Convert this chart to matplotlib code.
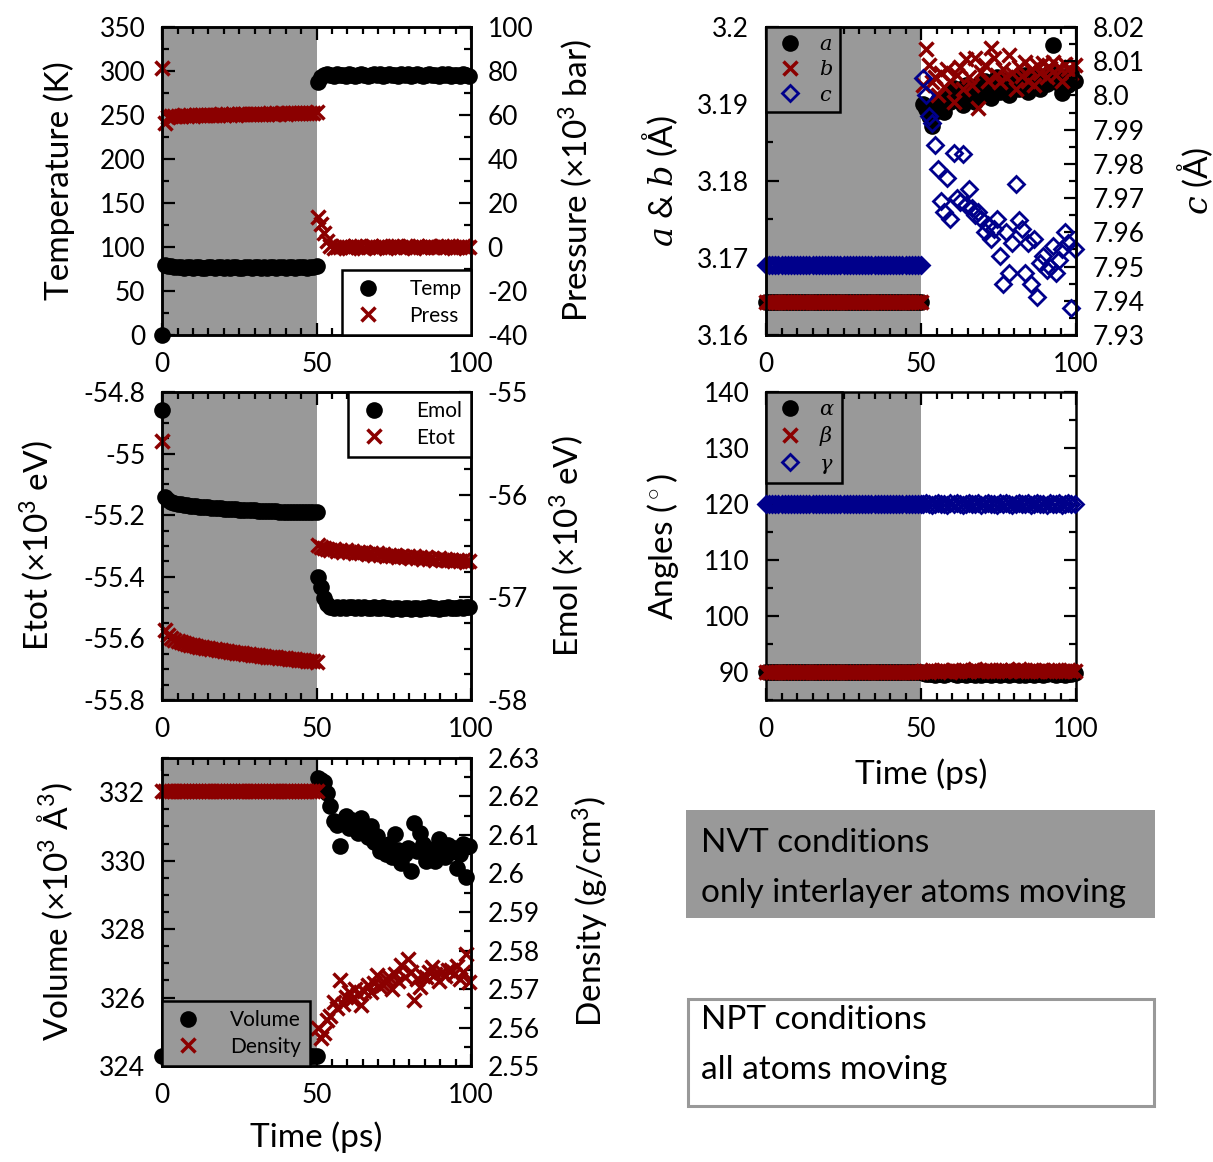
import numpy as np
import matplotlib
matplotlib.use('Agg')
import matplotlib.pyplot as plt
from matplotlib.ticker import MultipleLocator, FuncFormatter
from matplotlib.lines import Line2D
from matplotlib.patches import Rectangle

plt.rcParams['font.family'] = ['Lato', 'DejaVu Sans']
plt.rcParams['mathtext.fontset'] = 'custom'
plt.rcParams['mathtext.rm'] = 'Lato'
plt.rcParams['mathtext.it'] = 'DejaVu Serif:italic'
plt.rcParams['mathtext.bf'] = 'Lato:bold'
plt.rcParams['axes.unicode_minus'] = False

RED = '#8b0000'
BLUE = '#00008b'
GRAY = '#999999'

# ---------------- data ----------------
t_nvt = np.arange(0, 51, 1.0)          # NVT stage (ps)
t_npt = np.arange(50.5, 100, 1.0)      # NPT stage (ps)

temp_nvt = [0, 79, 78, 78, 77, 77, 77, 76, 77, 77, 76, 77, 77, 76, 76, 77, 77, 76, 77, 77,
            76, 77, 76, 77, 77, 76, 76, 77, 77, 76, 77, 77, 76, 77, 76, 77, 77, 76, 77, 77,
            76, 77, 77, 76, 77, 77, 77, 76, 77, 77, 78]
temp_npt = [288, 293, 295, 296, 295, 294, 296, 295, 295, 294, 296, 295, 294, 295, 296, 295, 294,
            295, 296, 295, 296, 294, 295, 296, 295, 295, 294, 296, 295, 296, 294, 295, 296, 295,
            294, 295, 296, 295, 295, 294, 296, 295, 296, 294, 295, 295, 294, 296, 295, 294]
press_nvt = [81.5, 56.5, 59.3, 59.5, 59.4, 59.7, 59.5, 59.8, 59.6, 59.9, 59.7, 60.0, 59.8, 60.1,
             59.9, 60.1, 60.0, 60.2, 60.0, 60.3, 60.1, 60.3, 60.2, 60.4, 60.2, 60.4, 60.3, 60.5,
             60.3, 60.5, 60.4, 60.6, 60.4, 60.6, 60.5, 60.7, 60.5, 60.7, 60.6, 60.8, 60.6, 60.8,
             60.7, 60.9, 60.7, 60.9, 60.8, 61.0, 60.8, 61.0, 61.2]
press_npt = [13.8, 10.5, 6.5, 2.5, 0.5, -0.3, 0.2, -0.2, 0.3, 0.0, -0.4, 0.2, 0.5, -0.1, 0.3,
             -0.3, 0.1, 0.4, -0.2, 0.2, 0.0, 0.5, -0.3, 0.1, 0.3, -0.2, 0.4, 0.0, -0.1, 0.3,
             0.1, -0.3, 0.4, 0.2, -0.2, 0.1, 0.5, -0.1, 0.2, 0.0, 0.3, -0.2, 0.4, 0.1, -0.3,
             0.2, 0.0, 0.3, -0.1, 0.2]

emol_nvt = [-55.18, -56.02, -56.05, -56.07, -56.08, -56.09, -56.09, -56.10, -56.10, -56.11,
            -56.11, -56.11, -56.12, -56.12, -56.12, -56.12, -56.13, -56.13, -56.13, -56.13,
            -56.14, -56.14, -56.14, -56.14, -56.14, -56.15, -56.15, -56.15, -56.15, -56.15,
            -56.15, -56.16, -56.16, -56.16, -56.16, -56.16, -56.16, -56.16, -56.17, -56.17,
            -56.17, -56.17, -56.17, -56.17, -56.17, -56.17, -56.17, -56.17, -56.17, -56.17,
            -56.17]
emol_npt = [-56.80, -56.90, -57.01, -57.07, -57.09, -57.10, -57.09, -57.10, -57.09, -57.10,
            -57.09, -57.09, -57.10, -57.09, -57.10, -57.09, -57.10, -57.10, -57.09, -57.10,
            -57.10, -57.09, -57.10, -57.10, -57.11, -57.10, -57.10, -57.11, -57.10, -57.10,
            -57.11, -57.10, -57.10, -57.11, -57.10, -57.10, -57.09, -57.10, -57.10, -57.11,
            -57.10, -57.10, -57.09, -57.10, -57.10, -57.10, -57.09, -57.10, -57.09, -57.09]
etot_nvt = [-54.958, -55.573, -55.590, -55.598, -55.604, -55.608, -55.612, -55.615, -55.618,
            -55.620, -55.622, -55.625, -55.627, -55.629, -55.630, -55.632, -55.634, -55.636,
            -55.637, -55.639, -55.640, -55.642, -55.643, -55.645, -55.646, -55.648, -55.649,
            -55.650, -55.652, -55.653, -55.654, -55.655, -55.657, -55.658, -55.659, -55.660,
            -55.661, -55.662, -55.663, -55.664, -55.665, -55.666, -55.667, -55.668, -55.669,
            -55.670, -55.671, -55.672, -55.673, -55.674, -55.676]
etot_npt = [-55.297, -55.302, -55.306, -55.310, -55.313, -55.309, -55.316, -55.312, -55.318,
            -55.314, -55.320, -55.316, -55.322, -55.318, -55.324, -55.320, -55.326, -55.322,
            -55.328, -55.324, -55.330, -55.326, -55.331, -55.328, -55.333, -55.329, -55.335,
            -55.331, -55.337, -55.333, -55.338, -55.334, -55.340, -55.336, -55.341, -55.337,
            -55.343, -55.339, -55.344, -55.340, -55.346, -55.342, -55.347, -55.344, -55.349,
            -55.345, -55.350, -55.346, -55.352, -55.348]

vol_nvt = [324.3] * 51
vol_npt = [332.42, 332.35, 332.30, 331.98, 331.59, 331.16, 331.05, 330.43, 331.10, 331.30,
           330.95, 331.20, 330.96, 330.80, 331.25, 330.90, 330.70, 331.01, 330.55, 330.72,
           330.28, 330.40, 330.19, 330.50, 330.10, 330.77, 330.30, 329.94, 330.20, 330.38,
           329.70, 331.11, 330.28, 330.82, 330.50, 330.00, 330.35, 330.20, 329.99, 330.62,
           330.30, 330.10, 330.45, 330.25, 330.38, 329.80, 330.19, 330.50, 329.51, 330.43]
dens_nvt = [2.6213] * 51
dens_npt = [2.5598, 2.5572, 2.5585, 2.5619, 2.5630, 2.5667, 2.5650, 2.5723, 2.5662, 2.5680,
            2.5692, 2.5675, 2.5700, 2.5688, 2.5658, 2.5695, 2.5710, 2.5692, 2.5715, 2.5736,
            2.5705, 2.5710, 2.5725, 2.5731, 2.5700, 2.5740, 2.5720, 2.5762, 2.5730, 2.5779,
            2.5745, 2.5671, 2.5725, 2.5705, 2.5735, 2.5730, 2.5745, 2.5757, 2.5740, 2.5720,
            2.5745, 2.5735, 2.5750, 2.5749, 2.5740, 2.5760, 2.5725, 2.5745, 2.5792, 2.5718]

a_nvt = [3.1643] * 51
b_nvt = [3.1643] * 51
c_nvt = [7.9505] * 51
a_npt = [3.1900, 3.1893, 3.1884, 3.1871, 3.1890, 3.1905, 3.1898, 3.1889, 3.1912, 3.1903,
         3.1921, 3.1908, 3.1915, 3.1899, 3.1924, 3.1910, 3.1918, 3.1902, 3.1925, 3.1913,
         3.1930, 3.1917, 3.1908, 3.1927, 3.1935, 3.1916, 3.1922, 3.1931, 3.1912, 3.1926,
         3.1934, 3.1919, 3.1928, 3.1937, 3.1915, 3.1930, 3.1922, 3.1938, 3.1920, 3.1933,
         3.1926, 3.1941, 3.1977, 3.1929, 3.1936, 3.1914, 3.1932, 3.1925, 3.1940, 3.1930]
b_npt = [3.1925, 3.1971, 3.1951, 3.1928, 3.1935, 3.1912, 3.1940, 3.1922, 3.1946, 3.1930,
         3.1902, 3.1938, 3.1948, 3.1920, 3.1958, 3.1935, 3.1925, 3.1960, 3.1895, 3.1942,
         3.1950, 3.1930, 3.1973, 3.1960, 3.1938, 3.1928, 3.1945, 3.1935, 3.1964, 3.1940,
         3.1920, 3.1948, 3.1936, 3.1955, 3.1930, 3.1944, 3.1925, 3.1950, 3.1940, 3.1953,
         3.1935, 3.1947, 3.1955, 3.1938, 3.1948, 3.1930, 3.1952, 3.1945, 3.1940, 3.1950]
c_npt = [8.005, 8.000, 7.994, 7.992, 7.9855, 7.9785, 7.9692, 7.966, 7.9758, 7.9638,
         7.9833, 7.970, 7.969, 7.9829, 7.968, 7.9726, 7.967, 7.965, 7.966, 7.964,
         7.960, 7.962, 7.958, 7.961, 7.9638, 7.953, 7.945, 7.960, 7.948, 7.957,
         7.9741, 7.9635, 7.961, 7.948, 7.957, 7.945, 7.958, 7.941, 7.951, 7.953,
         7.949, 7.950, 7.956, 7.948, 7.952, 7.955, 7.960, 7.957, 7.9378, 7.955]

alpha_nvt = [90.0] * 51
beta_nvt = [90.0] * 51
gamma_nvt = [120.0] * 51
alpha_npt = [89.8, 89.7, 89.6, 89.7, 89.5, 89.6, 89.7, 89.5, 89.6, 89.8, 89.6, 89.5, 89.7,
             89.6, 89.4, 89.6, 89.7, 89.5, 89.6, 89.5, 89.7, 89.6, 89.4, 89.6, 89.7, 89.5,
             89.6, 89.8, 89.5, 89.6, 89.7, 89.5, 89.6, 89.4, 89.6, 89.7, 89.5, 89.6, 89.7,
             89.5, 89.6, 89.8, 89.6, 89.5, 89.7, 89.6, 89.5, 89.7, 89.6, 89.8]
beta_npt = [90.1, 90.2, 90.0, 90.3, 90.1, 90.2, 90.4, 90.1, 90.2, 90.0, 90.3, 90.2, 90.1,
            90.4, 90.2, 90.1, 90.3, 90.5, 90.2, 90.1, 90.3, 90.2, 90.4, 90.1, 90.2, 90.3,
            90.1, 90.4, 90.2, 90.3, 90.1, 90.5, 90.2, 90.3, 90.1, 90.2, 90.4, 90.2, 90.1,
            90.3, 90.2, 90.1, 90.3, 90.2, 90.4, 90.1, 90.2, 90.3, 90.1, 90.2]
gamma_npt = [120.0, 120.1, 120.0, 119.9, 120.0, 120.1, 120.0, 120.0, 119.9, 120.1, 120.0,
             120.1, 120.0, 119.9, 120.0, 120.1, 120.0, 120.0, 120.1, 119.9, 120.0, 120.1,
             120.0, 120.0, 119.9, 120.1, 120.0, 120.1, 120.0, 119.9, 120.0, 120.1, 120.0,
             120.0, 120.1, 119.9, 120.0, 120.1, 120.0, 120.0, 119.9, 120.1, 120.0, 120.0,
             120.1, 119.9, 120.0, 120.1, 120.0, 120.0]

# ---------------- style ----------------
TICK_FS = 19
LABEL_FS = 24
LEG_FS = 15
SPINE_LW = 1.8
PAD = 12

circ = dict(ls='none', marker='o', ms=12, mfc='black', mec='black', mew=0)
cross = dict(ls='none', marker='x', ms=10, mec=RED, mew=2.5)
diam = dict(ls='none', marker='D', ms=8, mfc='none', mec=BLUE, mew=2)


def fmt_g(x, pos):
    return '%g' % round(x, 6)


def fmt_1dec(x, pos):
    s = '%.2f' % x
    if s.endswith('0'):
        s = s[:-1]
    return s


def style(ax, right_mirror=True):
    for sp in ax.spines.values():
        sp.set_linewidth(SPINE_LW)
    ax.tick_params(which='both', direction='in', top=True, right=right_mirror,
                   labelsize=TICK_FS, width=1.6)
    ax.tick_params(which='major', length=9, pad=PAD)
    ax.tick_params(which='minor', length=5)
    ax.set_xlim(0, 100)
    ax.xaxis.set_major_locator(MultipleLocator(50))
    ax.xaxis.set_minor_locator(MultipleLocator(5))
    ax.axvspan(0, 50, color=GRAY, lw=0, zorder=0)


def style_twin(ax2):
    ax2.tick_params(which='both', direction='in', labelsize=TICK_FS, width=1.6)
    ax2.tick_params(which='major', length=9, pad=PAD)
    ax2.tick_params(which='minor', length=5)
    for sp in ax2.spines.values():
        sp.set_linewidth(SPINE_LW)


def legend(ax, handles, labels, loc, face, fs=LEG_FS, tp=1.2, ls=0.3, bp=0.45):
    lg = ax.legend(handles, labels, loc=loc, fontsize=fs, frameon=True, fancybox=False,
                   edgecolor='black', facecolor=face, framealpha=1, borderaxespad=0,
                   handletextpad=tp, borderpad=bp, labelspacing=ls, handlelength=1.6)
    lg.get_frame().set_linewidth(SPINE_LW)
    lg.set_zorder(20)
    return lg


fig = plt.figure(figsize=(12.13, 11.62), dpi=100)

LX, LW = 0.1336, 0.2547
RX, RW = 0.6315, 0.2556
H = 0.2651
B1, B2, B3 = 0.7117, 0.3976, 0.0826

# ---- Panel 1: temperature / pressure ----
ax1 = fig.add_axes([LX, B1, LW, H])
style(ax1, right_mirror=False)
ax1.set_ylim(0, 350)
ax1.yaxis.set_major_locator(MultipleLocator(50))
ax1.yaxis.set_minor_locator(MultipleLocator(25))
ax1.plot(t_nvt, temp_nvt, clip_on=False, zorder=3, **circ)
ax1.plot(t_npt, temp_npt, clip_on=False, zorder=3, **circ)
ax1.set_ylabel('Temperature (K)', fontsize=LABEL_FS)
ax1.yaxis.set_label_coords(-0.2816, 0.5)
ax1b = ax1.twinx()
style_twin(ax1b)
ax1b.set_ylim(-40, 100)
ax1b.yaxis.set_major_locator(MultipleLocator(20))
ax1b.yaxis.set_minor_locator(MultipleLocator(10))
ax1b.plot(t_nvt, press_nvt, clip_on=False, **cross)
ax1b.plot(t_npt, press_npt, clip_on=False, **cross)
ax1b.set_ylabel(r'Pressure ($\times$10$^3$ bar)', fontsize=LABEL_FS)
ax1b.yaxis.set_label_coords(1.278, 0.5)
legend(ax1b, [Line2D([], [], **circ), Line2D([], [], **cross)], ['Temp', 'Press'],
       'lower right', 'white')

# ---- Panel 2: energies ----
ax2 = fig.add_axes([LX, B2, LW, H])
style(ax2, right_mirror=False)
ax2.set_ylim(-55.8, -54.8)
ax2.yaxis.set_major_locator(MultipleLocator(0.2))
ax2.yaxis.set_minor_locator(MultipleLocator(0.05))
ax2.yaxis.set_major_formatter(FuncFormatter(fmt_g))
ax2.plot(t_nvt, etot_nvt, clip_on=False, zorder=3, **cross)
ax2.plot(t_npt, etot_npt, clip_on=False, zorder=3, **cross)
ax2.set_ylabel(r'Etot ($\times$10$^3$ eV)', fontsize=LABEL_FS)
ax2.yaxis.set_label_coords(-0.343, 0.5)
ax2b = ax2.twinx()
style_twin(ax2b)
ax2b.set_ylim(-58, -55)
ax2b.yaxis.set_major_locator(MultipleLocator(1))
ax2b.yaxis.set_minor_locator(MultipleLocator(0.25))
ax2b.yaxis.set_major_formatter(FuncFormatter(fmt_g))
ax2b.plot(t_nvt, emol_nvt, clip_on=False, **circ)
ax2b.plot(t_npt, emol_npt, clip_on=False, **circ)
ax2b.set_ylabel(r'Emol ($\times$10$^3$ eV)', fontsize=LABEL_FS)
ax2b.yaxis.set_label_coords(1.249, 0.5)
legend(ax2b, [Line2D([], [], **circ), Line2D([], [], **cross)], ['Emol', 'Etot'],
       'upper right', 'white')

# ---- Panel 3: volume / density ----
ax3 = fig.add_axes([LX, B3, LW, H])
style(ax3, right_mirror=False)
ax3.set_ylim(324, 333)
ax3.yaxis.set_major_locator(MultipleLocator(2))
ax3.yaxis.set_minor_locator(MultipleLocator(0.5))
ax3.plot(t_nvt, vol_nvt, clip_on=False, zorder=3, **circ)
ax3.plot(t_npt, vol_npt, clip_on=False, zorder=3, **circ)
ax3.set_ylabel(r'Volume ($\times$10$^3$ $\mathregular{\AA}^3$)', fontsize=LABEL_FS)
ax3.yaxis.set_label_coords(-0.2816, 0.5)
ax3.set_xlabel('Time (ps)', fontsize=LABEL_FS)
ax3.xaxis.set_label_coords(0.5, -0.181)
ax3b = ax3.twinx()
style_twin(ax3b)
ax3b.set_ylim(2.55, 2.63)
ax3b.yaxis.set_major_locator(MultipleLocator(0.01))
ax3b.yaxis.set_minor_locator(MultipleLocator(0.005))
ax3b.yaxis.set_major_formatter(FuncFormatter(fmt_g))
ax3b.plot(t_nvt, dens_nvt, clip_on=False, **cross)
ax3b.plot(t_npt, dens_npt, clip_on=False, **cross)
ax3b.set_ylabel(r'Density (g/cm$^3$)', fontsize=LABEL_FS)
ax3b.yaxis.set_label_coords(1.320, 0.5)
legend(ax3b, [Line2D([], [], **circ), Line2D([], [], **cross)], ['Volume', 'Density'],
       'lower left', GRAY)

# ---- Panel 4: lattice parameters ----
ax4 = fig.add_axes([RX, B1, RW, H])
style(ax4, right_mirror=False)
ax4.set_ylim(3.16, 3.20)
ax4.yaxis.set_major_locator(MultipleLocator(0.01))
ax4.yaxis.set_minor_locator(MultipleLocator(0.005))
ax4.yaxis.set_major_formatter(FuncFormatter(fmt_g))
ax4.plot(t_nvt, a_nvt, clip_on=False, zorder=3, **circ)
ax4.plot(t_npt, a_npt, clip_on=False, zorder=3, **circ)
ax4.plot(t_nvt, b_nvt, clip_on=False, zorder=4, **cross)
ax4.plot(t_npt, b_npt, clip_on=False, zorder=4, **cross)
ax4.set_ylabel(r'$a$ & $b$ ($\mathregular{\AA}$)', fontsize=LABEL_FS)
ax4.yaxis.set_label_coords(-0.277, 0.5)
ax4b = ax4.twinx()
style_twin(ax4b)
ax4b.set_ylim(7.93, 8.02)
ax4b.yaxis.set_major_locator(MultipleLocator(0.01))
ax4b.yaxis.set_minor_locator(MultipleLocator(0.005))
ax4b.yaxis.set_major_formatter(FuncFormatter(fmt_1dec))
ax4b.plot(t_nvt, c_nvt, clip_on=False, **diam)
ax4b.plot(t_npt, c_npt, clip_on=False, **diam)
ax4b.set_ylabel(r'$c$ ($\mathregular{\AA}$)', fontsize=LABEL_FS)
ax4b.yaxis.set_label_coords(1.319, 0.5)
legend(ax4b, [Line2D([], [], **circ), Line2D([], [], **cross), Line2D([], [], **diam)],
       [r'$a$', r'$b$', r'$c$'], 'upper left', GRAY, fs=15, tp=0.6, ls=0.25, bp=0.35)

# ---- Panel 5: angles ----
ax5 = fig.add_axes([RX, B2, RW, H])
style(ax5, right_mirror=True)
ax5.set_ylim(85, 140)
ax5.yaxis.set_major_locator(MultipleLocator(10))
ax5.yaxis.set_minor_locator(MultipleLocator(5))
ax5.plot(t_nvt, gamma_nvt, clip_on=False, zorder=3, **diam)
ax5.plot(t_npt, gamma_npt, clip_on=False, zorder=3, **diam)
ax5.plot(t_nvt, alpha_nvt, clip_on=False, zorder=3, **circ)
ax5.plot(t_npt, alpha_npt, clip_on=False, zorder=3, **circ)
ax5.plot(t_nvt, beta_nvt, clip_on=False, zorder=4, **cross)
ax5.plot(t_npt, beta_npt, clip_on=False, zorder=4, **cross)
ax5.set_ylabel(r'Angles ($^\circ$)', fontsize=LABEL_FS)
ax5.yaxis.set_label_coords(-0.274, 0.5)
ax5.set_xlabel('Time (ps)', fontsize=LABEL_FS)
ax5.xaxis.set_label_coords(0.5, -0.188)
legend(ax5, [Line2D([], [], **circ), Line2D([], [], **cross), Line2D([], [], **diam)],
       [r'$\alpha$', r'$\beta$', r'$\gamma$'], 'upper left', GRAY, fs=15, tp=0.6,
       ls=0.25, bp=0.35)

# ---- condition boxes ----
W, Hf = 1213.0, 1162.0
fig.patches.append(Rectangle((686 / W, 1 - 918 / Hf), 469 / W, 108 / Hf,
                             transform=fig.transFigure, facecolor=GRAY, edgecolor='none'))
fig.patches.append(Rectangle((688 / W, 1 - 1106 / Hf), 466 / W, 107 / Hf,
                             transform=fig.transFigure, facecolor='white', edgecolor=GRAY,
                             linewidth=2.2))
BOX_FS = 24
fig.text(701 / W, 1 - 843 / Hf, 'NVT conditions', fontsize=BOX_FS, va='center', ha='left')
fig.text(701 / W, 1 - 893 / Hf, 'only interlayer atoms moving', fontsize=BOX_FS,
         va='center', ha='left')
fig.text(701 / W, 1 - 1020 / Hf, 'NPT conditions', fontsize=BOX_FS, va='center', ha='left')
fig.text(701 / W, 1 - 1070 / Hf, 'all atoms moving', fontsize=BOX_FS, va='center', ha='left')

fig.savefig('out.png', dpi=100)
